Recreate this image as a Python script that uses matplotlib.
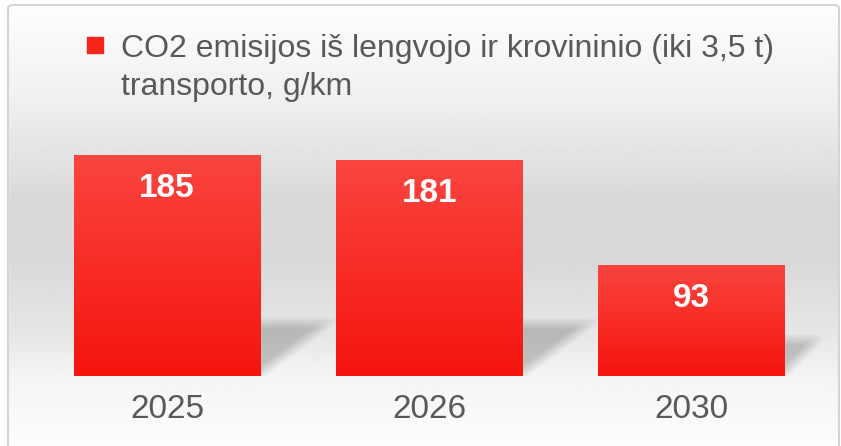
import matplotlib
matplotlib.use("Agg")
import matplotlib.pyplot as plt
from matplotlib.patches import Rectangle, FancyBboxPatch
import numpy as np

plt.rcParams['font.family'] = ['Liberation Sans', 'DejaVu Sans']

# data
years = ['2025', '2026', '2030']
values = [185, 181, 93]
legend_lines = ['CO2 emisijos iš lengvojo ir krovininio (iki 3,5 t)', 'transporto, g/km']

W, H = 841, 446
fig = plt.figure(figsize=(W / 100, H / 100), dpi=100)
fig.patch.set_facecolor('white')

# background gradient inside the frame
bg = fig.add_axes([0, 0, 1, 1], zorder=-10)
bg.set_axis_off()
py = np.arange(H)
prof = np.interp(py, [5, 100, 200, 260, 330, 380, 446],
                 [0.995, 0.94, 0.85, 0.85, 0.90, 0.96, 0.99])
img = np.repeat(prof[:, None], 2, axis=1)
bg.imshow(img, cmap='gray', vmin=0, vmax=1, aspect='auto',
          extent=[0, W, H, 0], interpolation='bilinear')
bg.set_xlim(0, W)
bg.set_ylim(H, 0)
frame = FancyBboxPatch((8, 5), 831, 460, boxstyle='round,pad=0,rounding_size=4',
                       fill=False, ec='#d4d4d4', lw=1.5)
bg.add_patch(frame)
bg.add_patch(Rectangle((0, 0), 8, H, color='white', zorder=0.5))
bg.add_patch(Rectangle((0, 0), W, 5, color='white', zorder=0.5))
bg.add_patch(Rectangle((839.5, 0), 3, H, color='white', zorder=0.5))

# main axes
ax = fig.add_axes([36 / W, 70 / H, (823 - 36) / W, 256 / H])
ax.patch.set_alpha(0)
ymax = 256 / 1.195
ax.set_xlim(-0.5, 2.5)
ax.set_ylim(0, ymax)
x = np.arange(len(years))
bw = 0.712
bars = ax.bar(x, values, width=bw, color='#f52a22', zorder=3)

# vertical gradient on bars
top = np.array([0.98, 0.27, 0.25])
bot = np.array([0.96, 0.08, 0.05])
t = np.linspace(0, 1, 100)[:, None, None]
grad = top * (1 - t) + bot * t
for b in bars:
    im = ax.imshow(grad, extent=[b.get_x(), b.get_x() + b.get_width(), 0, b.get_height()],
                   aspect='auto', zorder=3.5, interpolation='bilinear')
    im.set_clip_path(b)

# soft floor shadows to the right of bars
pxx = 262.5
pxy = 1.195
for b in bars:
    h_px = b.get_height() * pxy
    dy = 20 + 0.15 * h_px
    dx = 2.2 * dy - 45
    xr = b.get_x() + b.get_width()
    u = np.linspace(-5, dx + 30, 200)
    v = np.linspace(0, dy + 25, 120)
    U, V = np.meshgrid(u, v)
    blur = 12.0
    s1 = np.clip((dy - V) / blur + 0.5, 0, 1)
    d2 = (V * dx / dy - U) / np.sqrt(1 + (dx / dy) ** 2)
    s2 = np.clip(d2 / blur + 0.3, 0, 1)
    a = 0.2 * s1 * s2
    rgba = np.zeros(U.shape + (4,))
    rgba[..., 3] = a
    ax.imshow(rgba, extent=[xr + u[0] / pxx, xr + u[-1] / pxx, v[0] / pxy, v[-1] / pxy],
              origin='lower', aspect='auto', zorder=2, interpolation='bilinear')

ax.set_xlim(-0.5, 2.5)
ax.set_ylim(0, ymax)

for xi, v in zip(x, values):
    ax.annotate(str(v), (xi, v), xytext=(0, -24), textcoords='offset points',
                ha='center', va='center', color='white', fontsize=24,
                fontweight='bold', zorder=5)

ax.set_xticks(x, years)
ax.tick_params(axis='x', length=0, labelsize=24, labelcolor='#595959', pad=13)
ax.set_yticks([])
for s in ax.spines.values():
    s.set_visible(False)

# legend
bg.add_patch(Rectangle((87, 37), 16, 16, color='#f5251c', zorder=2))
fig.text(121 / W, 1 - 57 / H, legend_lines[0], fontsize=23, color='#595959', va='baseline')
fig.text(121 / W, 1 - 95 / H, legend_lines[1], fontsize=23, color='#595959', va='baseline')

fig.savefig('out.png', dpi=100)
